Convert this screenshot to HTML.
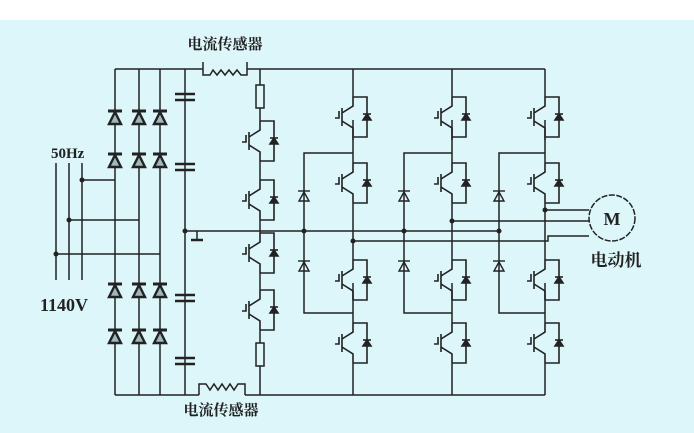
<!DOCTYPE html>
<html><head><meta charset="utf-8"><style>
html,body{margin:0;padding:0;}
body{width:694px;height:433px;background:#fff;overflow:hidden;}
svg{display:block}
text{font-family:"Liberation Serif","Noto Serif CJK SC",serif;font-weight:bold;fill:#222}
</style></head><body>
<svg width="694" height="433" viewBox="0 0 694 433" xmlns="http://www.w3.org/2000/svg">
<defs>
<g id="igbt" fill="none" stroke="#222" stroke-width="1.6">
<path d="M0,-20 H14 V20 H0"/>
<path d="M0,-20 V-11 L-11,-4 M-11,-9 V9 M-11,4 L0,11 V20"/>
<path d="M-18,1 H-14 V-6"/>
<polygon points="10,3 18,3 14,-3" fill="#222"/>
<path d="M10,-3 H18"/>
</g>
<g id="rd" stroke="#222" stroke-width="2.4">
<polygon points="-6,7 6,7 0,-5" fill="#9fb8bc"/>
<path d="M-7,-6 H7" stroke-width="3"/>
</g>
<g id="cd" stroke="#222" stroke-width="1.4">
<polygon points="-5,5 5,5 0,-4" fill="none"/>
<path d="M-6,-5 H6"/>
</g>
<g id="cap" stroke="#222" stroke-width="2.4"><path d="M-10,-3 H10 M-10,3 H10"/></g>
</defs>
<rect x="0" y="20" width="694" height="413" fill="#dcf6fa"/>
<g fill="none" stroke="#222" stroke-width="1.5">
<path d="M115,69 H203 M247,69 H545"/>
<path d="M115,395 H199 M245,395 H545"/>
<path d="M203,62 V75 H210 L213,70 L217,75 L221,70 L225,75 L229,70 L233,75 L237,70 L241,75 H247 V62"/>
<path d="M199,395 V384 H206 L210,390 L214,384 L218,390 L222,384 L226,390 L230,384 L234,390 L238,384 H245 V395"/>
<path d="M115,69 V395 M139,69 V395 M160,69 V395"/>
<path d="M56,163 V280 M69,163 V280 M82,163 V280"/>
<path d="M82,180 H115 M69,220 H139 M56,254 H160"/>
<path d="M185,69 V395"/>
<path d="M185,231 H499"/>
<path d="M197,231 V240"/>
<path d="M191,240 H203" stroke-width="2.5"/>
<path d="M260,69 V85 M260,108 V121 M260,161 V180 M260,220 V233 M260,273 V290 M260,330 V343 M260,366 V395"/>
<rect x="256" y="85" width="8" height="23"/>
<rect x="256" y="343" width="8" height="23"/>
<path d="M353,69 V97 M353,137 V163 M353,203 V260 M353,300 V323 M353,363 V395"/>
<path d="M452,69 V97 M452,137 V163 M452,203 V260 M452,300 V323 M452,363 V395"/>
<path d="M545,69 V97 M545,137 V163 M545,203 V260 M545,300 V323 M545,363 V395"/>
<path d="M353,120 V140 M452,120 V140 M545,120 V140 M353,283 V300 M452,283 V300 M545,283 V300"/>
<path d="M353,153 H304 V313 H353"/>
<path d="M452,153 H404 V313 H452"/>
<path d="M545,153 H499 V313 H545"/>
<path d="M353,241 H548 V236 H589"/>
<path d="M452,221 H589"/>
<path d="M545,210 H589"/>
<circle cx="612" cy="218" r="23" stroke-dasharray="6 1.5"/>
</g>
<g fill="#222">
<circle cx="82" cy="180" r="2.5"/><circle cx="69" cy="220" r="2.5"/><circle cx="56" cy="254" r="2.5"/>
<circle cx="185" cy="231" r="2.5"/><circle cx="304" cy="231" r="2.5"/><circle cx="404" cy="231" r="2.5"/><circle cx="499" cy="231" r="2.5"/>
<circle cx="353" cy="241" r="2.5"/><circle cx="452" cy="221" r="2.5"/><circle cx="545" cy="210" r="2.5"/>
</g>
<use href="#rd" x="115" y="117"/><use href="#rd" x="139" y="117"/><use href="#rd" x="160" y="117"/>
<use href="#rd" x="115" y="160"/><use href="#rd" x="139" y="160"/><use href="#rd" x="160" y="160"/>
<use href="#rd" x="115" y="290"/><use href="#rd" x="139" y="290"/><use href="#rd" x="160" y="290"/>
<use href="#rd" x="115" y="336"/><use href="#rd" x="139" y="336"/><use href="#rd" x="160" y="336"/>
<use href="#cap" x="185" y="97"/><use href="#cap" x="185" y="167"/><use href="#cap" x="185" y="298"/><use href="#cap" x="185" y="361"/>
<use href="#cd" x="304" y="196"/><use href="#cd" x="304" y="266"/>
<use href="#cd" x="404" y="196"/><use href="#cd" x="404" y="266"/>
<use href="#cd" x="499" y="196"/><use href="#cd" x="499" y="266"/>
<use href="#igbt" x="260" y="141"/><use href="#igbt" x="260" y="200"/><use href="#igbt" x="260" y="253"/><use href="#igbt" x="260" y="310"/>
<use href="#igbt" x="353" y="117"/><use href="#igbt" x="353" y="183"/><use href="#igbt" x="353" y="280"/><use href="#igbt" x="353" y="343"/>
<use href="#igbt" x="452" y="117"/><use href="#igbt" x="452" y="183"/><use href="#igbt" x="452" y="280"/><use href="#igbt" x="452" y="343"/>
<use href="#igbt" x="545" y="117"/><use href="#igbt" x="545" y="183"/><use href="#igbt" x="545" y="280"/><use href="#igbt" x="545" y="343"/>
<text x="51" y="158" font-size="15">50Hz</text>
<text x="40" y="311" font-size="18">1140V</text>
<text x="225" y="49" font-size="15" text-anchor="middle">电流传感器</text>
<text x="221" y="415" font-size="15" text-anchor="middle">电流传感器</text>
<text x="612" y="225" font-size="18" text-anchor="middle">M</text>
<text x="616" y="266" font-size="17" text-anchor="middle">电动机</text>
</svg>
</body></html>
